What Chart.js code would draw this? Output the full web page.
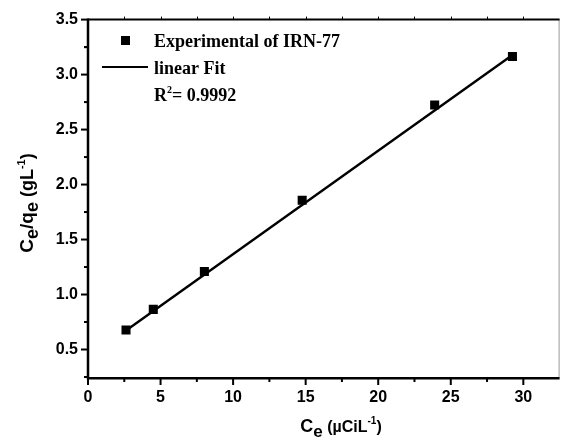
<!DOCTYPE html>
<html>
<head>
<meta charset="utf-8">
<script src="https://cdn.jsdelivr.net/npm/chart.js@4.4.0/dist/chart.umd.min.js"></script>
<style>
  html, body { margin: 0; padding: 0; background: #fff; }
  #wrap { width: 566px; height: 444px; }
</style>
</head>
<body>
<div id="wrap"><canvas id="isotherm"></canvas></div>
<script>
// Langmuir plot, IRN-77
const ce = [2.62, 4.50, 8.02, 14.76, 23.89, 29.25];
const ceOverQe = [0.677, 0.865, 1.209, 1.858, 2.724, 3.164];

// end points of the fitted line
const fitCe = [2.62, 29.25];
const fitCeOverQe = [0.672, 3.178];

const xTicks = [0, 5, 10, 15, 20, 25, 30];
const yTicks = [0.5, 1.0, 1.5, 2.0, 2.5, 3.0, 3.5];

const seriesName = 'Experimental of IRN-77';
const fitName = 'linear Fit';
const r2Text = '0.9992';

const sans = '"Liberation Sans", Arial, sans-serif';
const serif = '"Liberation Serif", "Times New Roman", serif';

// draws text made of pieces with their own size / vertical shift
function richText(ctx, parts, x, y, align) {
  let w = 0;
  parts.forEach(p => { ctx.font = 'bold ' + p.size + 'px ' + p.family; w += ctx.measureText(p.t).width; });
  let cx = align === 'center' ? x - w / 2 : x;
  parts.forEach(p => {
    ctx.font = 'bold ' + p.size + 'px ' + p.family;
    ctx.fillText(p.t, cx, y + (p.dy || 0));
    cx += ctx.measureText(p.t).width;
  });
}

const frame = {
  id: 'frame',
  afterDraw(chart) {
    const ctx = chart.ctx;
    const a = chart.chartArea;
    const xs = chart.scales.x, ys = chart.scales.y;
    ctx.save();

    // right and top edges
    ctx.strokeStyle = '#999';
    ctx.lineWidth = 1;
    ctx.beginPath();
    ctx.moveTo(a.right - 0.5, a.top);
    ctx.lineTo(a.right - 0.5, a.bottom);
    ctx.stroke();

    ctx.strokeStyle = '#000';
    ctx.lineWidth = 2;
    ctx.beginPath();
    ctx.moveTo(a.left, a.top);
    ctx.lineTo(a.right, a.top);
    ctx.stroke();

    // axes
    ctx.lineWidth = 2.5;
    ctx.beginPath();
    ctx.moveTo(a.left, a.top - 1);
    ctx.lineTo(a.left, a.bottom + 1.25);
    ctx.lineTo(a.right, a.bottom + 1.25);
    ctx.stroke();

    // ticks, major and minor
    ctx.lineWidth = 2;
    for (let i = 0; i < xTicks.length; i++) {
      const v = xTicks[i];
      const px = xs.getPixelForValue(v);
      ctx.beginPath(); ctx.moveTo(px, a.bottom); ctx.lineTo(px, a.bottom + 8); ctx.stroke();
      const m = xs.getPixelForValue(v + 2.5);
      if (v + 2.5 < xs.max) {
        ctx.beginPath(); ctx.moveTo(m, a.bottom); ctx.lineTo(m, a.bottom + 5); ctx.stroke();
      }
    }
    ctx.lineWidth = 1;
    for (let v = 2.5; v < xs.max; v += 2.5) {
      const px = Math.round(xs.getPixelForValue(v)) + 0.5;
      ctx.beginPath(); ctx.moveTo(px, a.top); ctx.lineTo(px, a.top - 3); ctx.stroke();
    }
    ctx.lineWidth = 2;
    for (let i = 0; i < yTicks.length; i++) {
      const v = yTicks[i];
      const py = ys.getPixelForValue(v);
      ctx.beginPath(); ctx.moveTo(a.left, py); ctx.lineTo(a.left - 7, py); ctx.stroke();
      const m = ys.getPixelForValue(v - 0.25);
      ctx.beginPath(); ctx.moveTo(a.left, m); ctx.lineTo(a.left - 4, m); ctx.stroke();
    }
    const top = ys.getPixelForValue(3.25);
    ctx.beginPath(); ctx.moveTo(a.left, top); ctx.lineTo(a.left - 4, top); ctx.stroke();

    // axis titles
    ctx.fillStyle = '#000';
    ctx.textBaseline = 'alphabetic';
    richText(ctx, [
      { t: 'C', size: 18, family: sans },
      { t: 'e', size: 17, family: sans, dy: 5 },
      { t: ' (\u00b5CiL', size: 16, family: sans },
      { t: '-1', size: 10, family: sans, dy: -8 },
      { t: ')', size: 16, family: sans }
    ], 341, 432, 'center');

    ctx.translate(33, 203);
    ctx.rotate(-Math.PI / 2);
    richText(ctx, [
      { t: 'C', size: 19, family: sans },
      { t: 'e', size: 18, family: sans, dy: 5 },
      { t: '/q', size: 19, family: sans },
      { t: 'e', size: 18, family: sans, dy: 5 },
      { t: ' (gL', size: 18, family: sans },
      { t: '-1', size: 11, family: sans, dy: -8 },
      { t: ')', size: 18, family: sans }
    ], 0, 0, 'center');
    ctx.restore();

    // legend
    ctx.save();
    ctx.fillStyle = '#000';
    ctx.fillRect(121, 36, 9, 9);
    ctx.strokeStyle = '#000';
    ctx.lineWidth = 2;
    ctx.beginPath(); ctx.moveTo(102, 67); ctx.lineTo(148, 67); ctx.stroke();
    ctx.textBaseline = 'alphabetic';
    richText(ctx, [{ t: seriesName, size: 18, family: serif }], 154, 47, 'left');
    richText(ctx, [{ t: fitName, size: 18, family: serif }], 154, 74, 'left');
    richText(ctx, [
      { t: 'R', size: 18, family: serif },
      { t: '2', size: 10, family: serif, dy: -8 },
      { t: '= ' + r2Text, size: 18, family: serif }
    ], 154, 101, 'left');
    ctx.restore();
  }
};

new Chart(document.getElementById('isotherm'), {
  type: 'scatter',
  data: {
    datasets: [
      {
        label: fitName,
        type: 'line',
        data: fitCe.map((x, i) => ({ x: x, y: fitCeOverQe[i] })),
        borderColor: '#000',
        borderWidth: 2.4,
        pointRadius: 0,
        fill: false,
        order: 2
      },
      {
        label: seriesName,
        data: ce.map((x, i) => ({ x: x, y: ceOverQe[i] })),
        pointStyle: 'rect',
        pointRadius: 6.4,
        backgroundColor: '#000',
        borderColor: '#000',
        borderWidth: 0,
        order: 1
      }
    ]
  },
  options: {
    responsive: true,
    maintainAspectRatio: false,
    animation: false,
    layout: { padding: { top: 15, right: 1, left: 0, bottom: 0 } },
    plugins: {
      legend: { display: false },
      tooltip: { enabled: false }
    },
    scales: {
      x: {
        type: 'linear',
        min: 0,
        max: 32.5,
        grid: { display: false, drawTicks: false },
        border: { display: false },
        afterBuildTicks: s => { s.ticks = xTicks.map(v => ({ value: v })); },
        afterFit: s => { s.height = 67; },
        ticks: {
          padding: 11,
          color: '#000',
          font: { family: sans, size: 16, weight: 'bold' },
          maxRotation: 0
        }
      },
      y: {
        type: 'linear',
        min: 0.25,
        max: 3.5,
        grid: { display: false, drawTicks: false },
        border: { display: false },
        afterBuildTicks: s => { s.ticks = yTicks.map(v => ({ value: v })); },
        afterFit: s => { s.width = 88; },
        ticks: {
          padding: 10,
          color: '#000',
          font: { family: sans, size: 16, weight: 'bold' },
          callback: v => v.toFixed(1)
        }
      }
    }
  },
  plugins: [frame]
});
</script>
</body>
</html>
